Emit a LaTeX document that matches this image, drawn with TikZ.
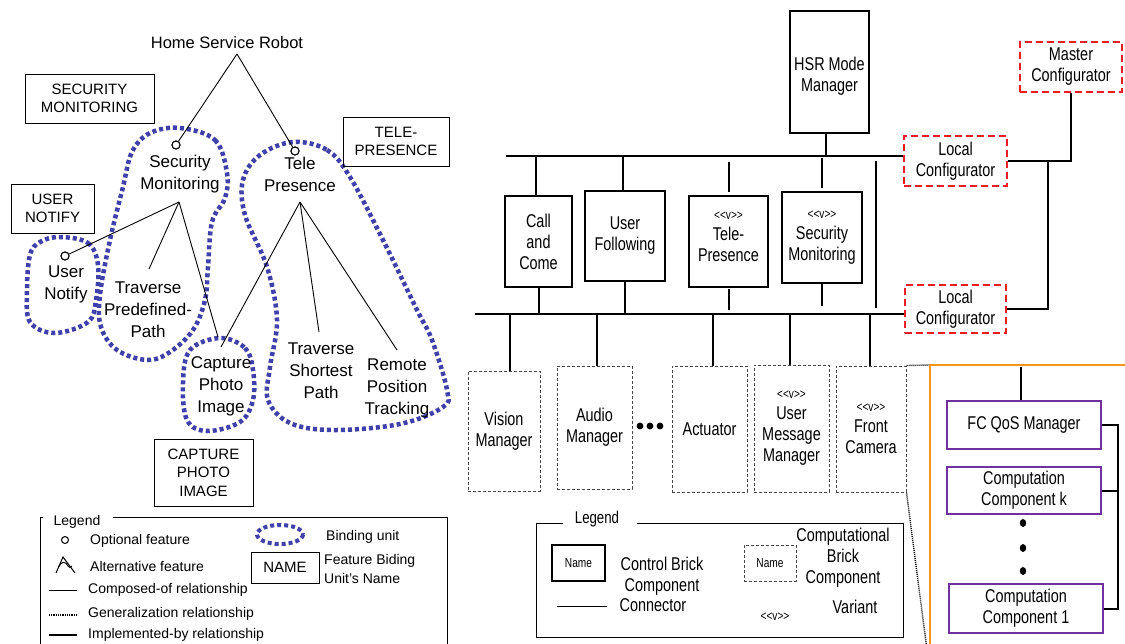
\documentclass[tikz,border=0pt]{standalone}
\usepackage{fontspec}
\setmainfont{Liberation Sans}
\newfontfamily\narrowsans[FakeStretch=0.78]{Liberation Sans}
\usetikzlibrary{calc}

\definecolor{bindblue}{RGB}{64,64,170}
\definecolor{cfgred}{RGB}{236,28,36}
\definecolor{frameorange}{RGB}{247,148,30}
\definecolor{qospurple}{RGB}{112,48,160}
\definecolor{compgray}{RGB}{70,70,70}

\tikzset{
  feat/.style={align=center, inner sep=0pt, font=\fontsize{17}{22}\selectfont},
  unitname/.style={draw, line width=1pt, align=center, inner sep=0pt,
    font=\fontsize{15}{18.5}\selectfont},
  optc/.style={circle, draw, line width=1pt, minimum size=8pt, inner sep=0pt, fill=white},
  bind/.style={draw=bindblue, line width=4.5pt, dash pattern=on 4pt off 3pt},
  rel/.style={line width=0.9pt},
  legtext/.style={anchor=west, inner sep=0pt, font=\fontsize{14}{19}\selectfont, align=left},
  nfont/.style={font=\narrowsans\fontsize{18.5}{21}\selectfont},
  ctrl/.style={draw, line width=2pt, align=center, inner sep=0pt, nfont},
  comp/.style={draw=compgray, line width=1pt, dash pattern=on 3pt off 2pt,
    align=center, inner sep=0pt, nfont},
  cfg/.style={draw=cfgred, line width=2.6pt, dash pattern=on 7pt off 4pt,
    align=center, inner sep=0pt, nfont},
  qos/.style={draw=qospurple, line width=2pt, align=center, inner sep=0pt, nfont},
  bus/.style={line width=2pt},
  plain/.style={align=center, inner sep=0pt, nfont},
}
\newcommand{\vtag}{{\fontsize{13}{15}\selectfont <{}<v>{}>}}

\begin{document}
\begin{tikzpicture}[x=1pt, y=-1pt]
\useasboundingbox (0,0) rectangle (1125,643);
\clip (0,0) rectangle (1125,643);

% ================= feature model (left) =================
% binding units
\draw[bind] plot[smooth cycle, tension=0.6] coordinates {
  (60,237) (88,243) (98,265) (96,300) (88,322) (55,333) (30,322) (27,290) (30,255) (40,242)};
\draw[bind] plot[smooth cycle, tension=0.6] coordinates {
  (180,128) (215,140) (227,173) (225,198) (212,222) (208,267) (205,300) (193,330)
  (170,352) (147,360) (117,350) (101,327) (100,295) (110,240) (123,187) (132,152) (150,133)};
\draw[bind] plot[smooth cycle, tension=0.6] coordinates {
  (293,142) (327,150) (350,177) (383,240) (417,310) (432,340) (447,390) (443,407)
  (400,424) (333,430) (290,423) (268,400) (270,367) (277,320) (267,267) (245,215)
  (243,180) (260,155)};
\draw[bind] plot[smooth cycle, tension=0.6] coordinates {
  (220,338) (245,348) (253,370) (253,400) (240,422) (207,431) (187,420) (183,383) (190,350)};

% feature names
\node[font=\fontsize{16.5}{20}\selectfont, inner sep=0pt] (f-root) at (227,43) {Home Service Robot};
\node[feat] (f-sm)  at (180,174) {Security\\Monitoring};
\node[feat] (f-tp)  at (300,174) {Tele\\Presence};
\node[feat] (f-un)  at (66,284)  {User\\Notify};
\node[feat] (f-tpp) at (148,310) {Traverse\\Predefined-\\Path};
\node[feat] (f-cpi) at (221,386) {Capture\\Photo\\Image};
\node[feat] (f-tsp) at (321,371) {Traverse\\Shortest\\Path};
\node[feat] (f-rpt) at (397,388) {Remote\\Position\\Tracking};

% binding unit names
\node[unitname, minimum width=129pt, minimum height=49pt] (u-sm)  at (89.5,98.5)  {SECURITY\\MONITORING};
\node[unitname, minimum width=106pt, minimum height=49pt] (u-tp)  at (396,141.5)  {TELE-\\PRESENCE};
\node[unitname, minimum width=83pt,  minimum height=49pt] (u-un)  at (52.5,208.5) {USER\\NOTIFY};
\node[unitname, minimum width=99pt,  minimum height=67pt] (u-cpi) at (203.5,472.5) {CAPTURE\\PHOTO\\IMAGE};

% composed-of relationships
\coordinate (root-apex) at (237,54);
\coordinate (sm-apex)   at (179,202);
\coordinate (tp-apex)   at (300,202);
\coordinate (tpp-top)   at (149,269);
\coordinate (cpi-top-a) at (218,337);
\coordinate (cpi-top-b) at (221,347);
\coordinate (tsp-top)   at (319,332);
\coordinate (rpt-top)   at (397,350);
\node[optc] (o-sm) at (176,145) {};
\node[optc] (o-tp) at (295,151) {};
\node[optc] (o-un) at (65,256) {};
\draw[rel] (root-apex) -- (o-sm);
\draw[rel] (root-apex) -- (o-tp);
\draw[rel] (sm-apex) -- (o-un);
\draw[rel] (sm-apex) -- (tpp-top);
\draw[rel] (sm-apex) -- (cpi-top-a);
\draw[rel] (tp-apex) -- (cpi-top-b);
\draw[rel] (tp-apex) -- (tsp-top);
\draw[rel] (tp-apex) -- (rpt-top);
\node[optc] at (o-sm) {};
\node[optc] at (o-tp) {};
\node[optc] at (o-un) {};

% legend of the feature model
\coordinate (lg1-tl) at (40,517);
\coordinate (lg1-tr) at (447,517);
\draw[line width=1pt] (43,517) -- (lg1-tl) -- (40,660);
\draw[line width=1pt] (113,517) -- (lg1-tr) -- (447,660);
\node[inner sep=0pt, font=\fontsize{14}{16}\selectfont] (lg1-title) at (77,522) {Legend};
\node[optc, minimum size=7pt] (lg-opt) at (65,540) {};
\node[legtext] (lg-opt-t) at (90,541) {Optional feature};
\coordinate (alt-apex) at (63,557);
\coordinate (alt-l) at (56,573);
\coordinate (alt-r) at (75,573);
\draw[line width=1pt] (alt-l) -- (alt-apex) -- (alt-r);
\draw[line width=0.9pt] (58.5,567) .. controls (61,561) and (66,561) .. (68,566) .. controls (69,568) and (71,568) .. (72,566);
\node[legtext] (lg-alt-t) at (90,566) {Alternative feature};
\coordinate (lc-a) at (49,590); \coordinate (lc-b) at (77,590);
\draw[line width=0.8pt] (lc-a) -- (lc-b);
\node[legtext] (lg-comp-t) at (88,590) {Composed-of relationship};
\coordinate (lg-a) at (49,615); \coordinate (lg-b) at (77,615);
\draw[line width=1.8pt, dash pattern=on 1pt off 0.8pt] (lg-a) -- (lg-b);
\node[legtext] (lg-gen-t) at (88,614) {Generalization relationship};
\coordinate (li-a) at (49,635); \coordinate (li-b) at (77,635);
\draw[line width=2.6pt] (li-a) -- (li-b);
\node[legtext] (lg-impl-t) at (88,635) {Implemented-by relationship};
\draw[bind, line width=4pt] (280,534.5) ellipse [x radius=23, y radius=9.5];
\node[legtext] (lg-bind-t) at (326,537) {Binding unit};
\node[unitname, minimum width=68pt, minimum height=31pt] (lg-name) at (285,567.5) {NAME};
\node[legtext, font=\fontsize{14}{19}\selectfont] (lg-name-t) at (324,569) {Feature Biding\\Unit's Name};

% ================= brick architecture (right) =================
\node[ctrl, minimum width=79pt, minimum height=122pt] (hsr) at (829.5,72) {};
\node[plain] (hsr-t) at (829.5,76) {HSR Mode\\Manager};
\node[cfg, minimum width=102pt, minimum height=50pt] (master) at (1071,67) {Master\\Configurator};
\node[cfg, minimum width=103pt, minimum height=50pt] (lc-top) at (955.5,161) {Local\\Configurator};
\node[cfg, minimum width=101pt, minimum height=48pt] (lc-bot) at (955.5,309) {Local\\Configurator};

% control bricks
\node[ctrl, minimum width=67pt, minimum height=91pt] (cb-call) at (538.5,241.5) {Call\\and\\Come};
\node[ctrl, minimum width=80pt, minimum height=90pt] (cb-uf)   at (625,236)     {User\\Following};
\node[ctrl, minimum width=79pt, minimum height=91pt] (cb-tp)   at (728.5,241.5) {};
\node[plain] (cb-tp-t) at (728.5,237) {\vtag\\Tele-\\Presence};
\node[ctrl, minimum width=80pt, minimum height=91pt] (cb-sm)   at (822,237.5)   {\vtag\\Security\\Monitoring};

% computational bricks
\node[comp, minimum width=72pt, minimum height=120pt] (cp-vis) at (504,431)   {Vision\\Manager};
\node[comp, minimum width=75pt, minimum height=123pt] (cp-aud) at (594.5,427.5) {Audio\\Manager};
\node[comp, minimum width=75pt, minimum height=126pt] (cp-act) at (709.5,429) {Actuator};
\node[comp, minimum width=75pt, minimum height=127pt] (cp-umm) at (791.5,428.5) {\vtag\\User\\Message\\Manager};
\node[comp, minimum width=70pt, minimum height=126pt] (cp-fc)  at (871,429)   {\vtag\\Front\\Camera};
\foreach \dx in {640,650,660} \fill (\dx,426) circle [radius=3.4];

% buses
\coordinate (bus-top) at (506,156);
\coordinate (bus-bot) at (475,314);
\draw[bus] (bus-top) -- (bus-top -| lc-top.west);
\draw[bus] (bus-bot) -- (bus-bot -| lc-bot.west);
\draw[bus] ([xshift=-4pt]hsr.south) -- ([xshift=-4pt]hsr.south |- bus-top);

% connectors of the control bricks
\draw[bus] ([xshift=-2.5pt]cb-call.north) -- ([xshift=-2.5pt]cb-call.north |- bus-top);
\draw[bus] (cb-call.south) -- (cb-call.south |- bus-bot);
\draw[bus] ([xshift=-2pt]cb-uf.north) -- ([xshift=-2pt]cb-uf.north |- bus-top);
\draw[bus] (cb-uf.south) -- (cb-uf.south |- bus-bot);
\draw[bus, shorten <=3pt, shorten >=6pt] (cb-tp.north) -- (cb-tp.north |- bus-top);
\draw[bus, shorten <=1pt, shorten >=4pt] (cb-tp.south) -- (cb-tp.south |- bus-bot);
\draw[bus, shorten <=3pt, shorten >=2pt] (cb-sm.north) -- (cb-sm.north |- bus-top);
\draw[bus, shorten >=8pt] (cb-sm.south) -- (cb-sm.south |- bus-bot);
\coordinate (free-top) at (876,161);
\coordinate (free-bot) at (876,308);
\draw[bus] (free-top) -- (free-bot);

% connectors of the computational bricks
\draw[bus] ([xshift=6pt]cp-vis.north) -- ([xshift=6pt]cp-vis.north |- bus-bot);
\draw[bus] ([xshift=2.5pt]cp-aud.north) -- ([xshift=2.5pt]cp-aud.north |- bus-bot);
\draw[bus] ([xshift=3.5pt]cp-act.north) -- ([xshift=3.5pt]cp-act.north |- bus-bot);
\draw[bus] ([xshift=-1.5pt]cp-umm.north) -- ([xshift=-1.5pt]cp-umm.north |- bus-bot);
\draw[bus] ([xshift=-1pt]cp-fc.north) -- ([xshift=-1pt]cp-fc.north |- bus-bot);

% configurators
\coordinate (cfg-join) at (1048,161);
\draw[bus] (lc-top.east) -- (lc-top.east -| master.south) -- (master.south);
\draw[bus] (lc-bot.east) -| (cfg-join);

% detail of the front camera brick
\coordinate (fc-frame) at (930,365);
\draw[line width=1.4pt, dash pattern=on 1pt off 1pt] (cp-fc.north east) -- (fc-frame);
\coordinate (fc-zoom) at (927,650);
\draw[line width=1.4pt, dash pattern=on 1pt off 1pt] (cp-fc.south east) -- (fc-zoom);
\draw[frameorange, line width=2pt] (930,700) -- (fc-frame) -- (1130,365);

\node[qos, minimum width=154pt, minimum height=48pt] (qos-mgr) at (1024,425)   {FC QoS Manager};
\node[qos, minimum width=154pt, minimum height=47pt] (qos-ck)  at (1024,490.5) {Computation\\Component k};
\node[qos, minimum width=154pt, minimum height=49pt] (qos-c1)  at (1026,608.5) {Computation\\Component 1};
\foreach \dy in {523,548,571} \fill (1023,\dy) ellipse [x radius=3.2, y radius=4];
\coordinate (qos-in) at (1021,367);
\draw[bus] (qos-in) -- (qos-in |- qos-mgr.north);
\coordinate (qos-brk) at (1118,425);
\draw[bus] (qos-mgr.east) -- (qos-brk) -- (qos-brk |- qos-c1.east) -- (qos-c1.east);
\draw[bus] (qos-ck.east) -- (qos-ck.east -| qos-brk);

% legend of the architecture
\coordinate (lg2-tl) at (536,523);
\coordinate (lg2-tr) at (903,523);
\coordinate (lg2-br) at (903,637);
\coordinate (lg2-bl) at (536,637);
\draw[line width=1pt] (563,523) -- (lg2-tl) -- (lg2-bl) -- (lg2-br) -- (lg2-tr) -- (637,523);
\node[plain, font=\narrowsans\fontsize{17}{20}\selectfont] (lg2-title) at (597,519) {Legend};
\node[ctrl, minimum width=53pt, minimum height=36pt, font=\narrowsans\fontsize{13}{15}\selectfont] (lg-ctrl) at (578.5,563) {Name};
\node[plain] (lg-ctrl-t) at (662,576) {Control Brick\\Component};
\coordinate (lcn-a) at (557,606); \coordinate (lcn-b) at (607,606);
\draw[line width=1pt] (lcn-a) -- (lcn-b);
\node[plain] (lg-conn-t) at (653,605) {Connector};
\node[comp, minimum width=52pt, minimum height=36pt, font=\narrowsans\fontsize{13}{15}\selectfont] (lg-comp) at (770,563) {Name};
\node[plain] (lg-comp-t) at (843,558) {Computational\\Brick\\Component};
\node[plain] (lg-var) at (775,617) {\vtag};
\node[plain] (lg-var-t) at (855,607) {Variant};
\end{tikzpicture}
\end{document}
